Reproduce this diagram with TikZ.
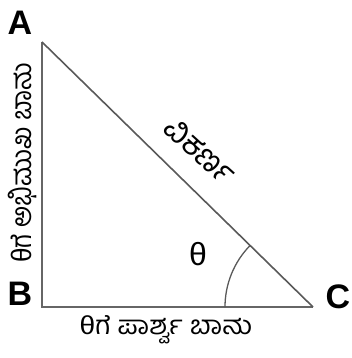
\documentclass[tikz,border=0pt]{standalone}
\usepackage{fontspec}
\setmainfont{Liberation Sans}
\newfontfamily\kannada[Script=Kannada]{Hind Mysuru}
\usetikzlibrary{positioning}

\tikzset{
  sommet/.style={font=\fontsize{34}{34}\selectfont\bfseries},
  cote/.style={font=\fontsize{26}{26}\selectfont\kannada, xscale=1.08, inner sep=0pt},
}

\begin{document}
\begin{tikzpicture}[x=1pt,y=-1pt]
        % Cadre
        \useasboundingbox (0,0) rectangle (351,358);
        
        % Sommets
        \coordinate (A) at (42,42);
        \coordinate (B) at (42,307);
        \coordinate (C) at (313,307);
        
        % Cotes
        \draw[line width=2.6pt, black!60] (A) -- (B) -- (C);
        \draw[line width=1.6pt, black!65] (A) -- (C);
        
        % Angle en C
        \draw[line width=1.3pt, black!65] ([xshift=-88pt]C) arc (180:135.6:88pt);
        
        % Labels des sommets
        \node[sommet] (labA) at (20,23) {A};
        \node[sommet] (labB) at (20,294) {B};
        \node[sommet] (labC) at (338,297) {C};
        \node[font=\fontsize{32}{32}\selectfont] (theta) at (198,254) {θ};
        
        % Labels des cotes
        \node[cote, rotate=90] (oppose) at (22,163) {{\rmfamily θ}ಗೆ ಅಭಿಮುಖ ಬಾಹು};
        \node[cote, rotate=-44.4, font=\fontsize{31}{31}\selectfont\kannada] (hypo) at (200,151) {ವಿಕರ್ಣ};
        \node[cote] (adjacent) at (166,330) {{\rmfamily θ}ಗೆ ಪಾರ್ಶ್ವ ಬಾಹು};
    \end{tikzpicture}
\end{document}
